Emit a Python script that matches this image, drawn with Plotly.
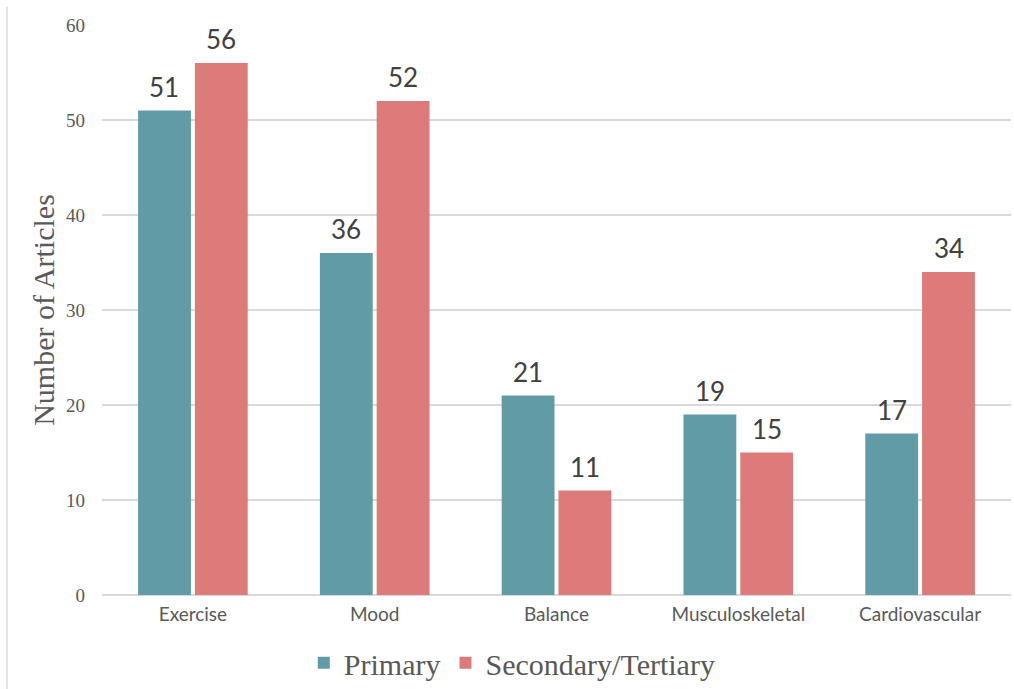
import plotly.graph_objects as go

categories = ["Exercise", "Mood", "Balance", "Musculoskeletal", "Cardiovascular"]
primary = [51, 36, 21, 19, 17]
secondary = [56, 52, 11, 15, 34]
y_ticks = [0, 10, 20, 30, 40, 50, 60]

TEAL = "#619BA6"
ROSE = "#DD7B7B"
GRID = "#D9D9D9"
AXIS_TEXT = "#595959"
LABEL_TEXT = "#404040"

BARGAP = 0.375
BARGROUPGAP = 0.07

fig = go.Figure()
fig.add_trace(go.Bar(name="Primary", x=categories, y=primary,
                     marker_color=TEAL, marker_line_width=0))
fig.add_trace(go.Bar(name="Secondary/Tertiary", x=categories, y=secondary,
                     marker_color=ROSE, marker_line_width=0))

# value labels above each bar, centred on its slot within the group
slot = (1 - BARGAP) / 2
for values, offset in ((primary, -slot / 2), (secondary, slot / 2)):
    for i, v in enumerate(values):
        fig.add_annotation(
            x=i + offset, y=v, xref="x", yref="y", text=str(v),
            showarrow=False, yanchor="bottom", yshift=6,
            font=dict(family="Lato", size=26, color=LABEL_TEXT),
        )

fig.update_layout(
    width=1014, height=689,
    margin=dict(l=102, r=3, t=25, b=94, autoexpand=False),
    paper_bgcolor="white", plot_bgcolor="white",
    barmode="group", bargap=BARGAP, bargroupgap=BARGROUPGAP,
    showlegend=True,
    legend=dict(
        orientation="h", x=0.222, xanchor="left", y=-0.119, yanchor="middle",
        font=dict(family="Liberation Serif", size=30, color=AXIS_TEXT),
        itemwidth=30, tracegroupgap=0,
    ),
    xaxis=dict(
        showgrid=False, showline=False, ticks="", automargin=False,
        tickfont=dict(family="Lato", size=19, color=AXIS_TEXT),
        ticklabelstandoff=6,
    ),
    yaxis=dict(
        range=[0, 60], tickvals=y_ticks, showgrid=True, gridcolor=GRID,
        gridwidth=1.5, zeroline=True, zerolinecolor=GRID, zerolinewidth=1.5,
        showline=False, ticks="", automargin=False,
        tickfont=dict(family="Liberation Serif", size=19, color=AXIS_TEXT),
        ticklabelstandoff=16,
        title=dict(text="Number of Articles", standoff=2,
                   font=dict(family="Liberation Serif", size=30, color=AXIS_TEXT)),
    ),
)

# thin frame edge on the left side of the chart area
fig.add_shape(type="line", xref="paper", yref="paper",
              x0=-0.1045, x1=-0.1045, y0=-0.17, y1=1.032,
              line=dict(color=GRID, width=1.5))

fig.write_html("out.html")
